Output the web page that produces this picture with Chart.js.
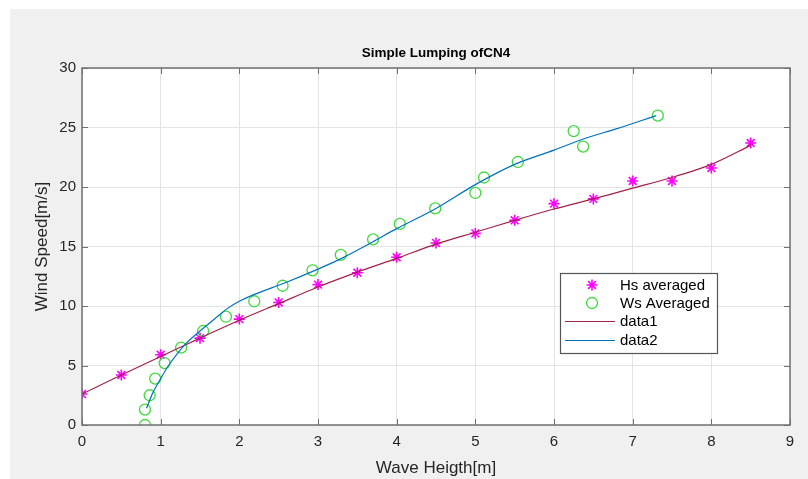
<!DOCTYPE html>
<html>
<head>
<meta charset="utf-8">
<script src="https://cdn.jsdelivr.net/npm/chart.js@4"></script>
<style>
    html, body { margin: 0; padding: 0; background: #ffffff; }
    #wrap { position: absolute; left: 10px; top: 9px; width: 798px; height: 470px; background: #f0f0f0; }
    canvas { display: block; }
</style>
</head>
<body>
<div id="wrap"><canvas id="chart" width="798" height="470"></canvas></div>
<script>
/* Simple Lumping ofCN4 - wind speed vs wave height */

// Hs averaged (asterisks)
const hsX = [0, 0.5, 1, 1.5, 2, 2.5, 3, 3.5, 4, 4.5, 5, 5.5, 6, 6.5, 7, 7.5, 8, 8.5];
const hsY = [2.6, 4.2, 5.9, 7.3, 8.9, 10.3, 11.8, 12.8, 14.1, 15.3, 16.1, 17.2, 18.6, 19.0, 20.5, 20.5, 21.6, 23.7];

// Ws Averaged (circles)
const wsX = [0.80, 0.80, 0.86, 0.93, 1.05, 1.26, 1.54, 1.83, 2.19, 2.55, 2.93, 3.29, 3.70, 4.04, 4.49, 5.00, 5.11, 5.54, 6.25, 6.37, 7.32];
const wsY = [0.0, 1.3, 2.5, 3.9, 5.2, 6.5, 7.9, 9.1, 10.4, 11.7, 13.0, 14.3, 15.6, 16.9, 18.2, 19.5, 20.8, 22.1, 24.7, 23.4, 26.0];

// data1 fit
const fit1X = [0, 0.5, 1, 1.5, 2, 2.5, 3, 3.5, 4, 4.5, 5, 5.5, 6, 6.5, 7, 7.5, 8, 8.5];
const fit1Y = [2.6, 4.2, 5.75, 7.3, 8.8, 10.2, 11.6, 12.85, 14.0, 15.2, 16.2, 17.2, 18.15, 19.0, 19.9, 20.8, 21.9, 23.5];

// data2 fit
const fit2X = [0.82, 0.9, 1.0, 1.1, 1.2, 1.33, 1.5, 1.7, 1.85, 2.0, 2.2, 2.6, 3.0, 3.3, 3.7, 4.0, 4.5, 5.0, 5.5, 6.0, 6.4, 6.8, 7.3];
const fit2Y = [1.4, 2.7, 3.9, 5.0, 5.9, 6.9, 7.9, 9.0, 9.8, 10.4, 11.0, 12.0, 13.1, 14.0, 15.4, 16.5, 18.2, 20.2, 21.9, 23.1, 24.1, 24.9, 26.0];

const xTicks = [0, 1, 2, 3, 4, 5, 6, 7, 8, 9];
const yTicks = [0, 5, 10, 15, 20, 25, 30];

const seriesNames = ['Hs averaged', 'Ws Averaged', 'data1', 'data2'];
const titleText = 'Simple Lumping ofCN4';

const FONT = '"Liberation Sans", Arial, sans-serif';
const AXIS_COLOR = '#707070';

const toPoints = (xs, ys) => xs.map((x, i) => ({ x, y: ys[i] }));

// white axes background
const axesBackground = {
    id: 'axesBackground',
    beforeDraw(chart) {
        const a = chart.chartArea;
        chart.ctx.save();
        chart.ctx.fillStyle = '#ffffff';
        chart.ctx.fillRect(a.left, a.top, a.right - a.left, a.bottom - a.top);
        chart.ctx.restore();
    }
};

// title, inward tick marks, box and legend drawn on top of the chart area
const matlabAxes = {
    id: 'matlabAxes',
    afterDraw(chart) {
        const ctx = chart.ctx;
        const a = chart.chartArea;
        const xs = chart.scales.x;
        const ys = chart.scales.y;
        ctx.save();

        // box
        ctx.strokeStyle = AXIS_COLOR;
        ctx.lineWidth = 1.5;
        ctx.strokeRect(a.left, a.top, a.right - a.left, a.bottom - a.top);

        // inward ticks
        ctx.lineWidth = 1;
        ctx.beginPath();
        xs.ticks.forEach(t => {
            const px = Math.round(xs.getPixelForValue(t.value)) + 0.5;
            ctx.moveTo(px, a.bottom); ctx.lineTo(px, a.bottom - 6);
            ctx.moveTo(px, a.top); ctx.lineTo(px, a.top + 6);
        });
        ys.ticks.forEach(t => {
            const py = Math.round(ys.getPixelForValue(t.value)) + 0.5;
            ctx.moveTo(a.left, py); ctx.lineTo(a.left + 6, py);
            ctx.moveTo(a.right, py); ctx.lineTo(a.right - 6, py);
        });
        ctx.stroke();

        // title centred over the axes
        ctx.fillStyle = '#000';
        ctx.font = 'bold 13.5px ' + FONT;
        ctx.textAlign = 'center';
        ctx.textBaseline = 'middle';
        ctx.fillText(titleText, (a.left + a.right) / 2, a.top - 15);

        // legend
        const lx = 550, ly = 264, lw = 157, lh = 80;
        ctx.fillStyle = '#fff';
        ctx.fillRect(lx, ly, lw, lh);
        ctx.strokeStyle = '#555';
        ctx.lineWidth = 1.2;
        ctx.strokeRect(lx + 0.5, ly + 0.5, lw, lh);

        const rowY = [276, 294, 312.5, 331.5];
        ctx.font = '15px ' + FONT;
        ctx.textAlign = 'left';
        chart.data.datasets.forEach((ds, i) => {
            const y = rowY[i];
            if (ds.showLine) {
                ctx.strokeStyle = ds.borderColor;
                ctx.lineWidth = ds.borderWidth;
                ctx.beginPath();
                ctx.moveTo(555, y); ctx.lineTo(605, y);
                ctx.stroke();
            } else {
                ctx.strokeStyle = ds.borderColor;
                ctx.fillStyle = 'rgba(0,0,0,0)';
                ctx.lineWidth = ds.borderWidth;
                Chart.helpers.drawPoint(ctx, {
                    pointStyle: ds.pointStyle, radius: ds.pointRadius, borderWidth: ds.borderWidth, rotation: 0
                }, 582, y);
            }
            ctx.fillStyle = '#000';
            ctx.fillText(ds.label, 610, y + 0.5);
        });

        ctx.restore();
    }
};

new Chart(document.getElementById('chart'), {
    type: 'scatter',
    data: {
        datasets: [
            {
                label: seriesNames[0],
                data: toPoints(hsX, hsY),
                showLine: false,
                pointStyle: 'star',
                pointRadius: 5.5,
                borderColor: '#ff00ff',
                backgroundColor: '#ff00ff',
                borderWidth: 1.6,
                order: 3
            },
            {
                label: seriesNames[1],
                data: toPoints(wsX, wsY),
                showLine: false,
                pointStyle: 'circle',
                pointRadius: 5.5,
                borderColor: '#3fd83f',
                backgroundColor: 'rgba(0,0,0,0)',
                borderWidth: 1.3,
                order: 2
            },
            {
                label: seriesNames[2],
                data: toPoints(fit1X, fit1Y),
                showLine: true,
                pointRadius: 0,
                borderColor: '#a2204a',
                borderWidth: 1.2,
                tension: 0.3,
                order: 1
            },
            {
                label: seriesNames[3],
                data: toPoints(fit2X, fit2Y),
                showLine: true,
                pointRadius: 0,
                borderColor: '#0072bd',
                borderWidth: 1.2,
                tension: 0.3,
                order: 0
            }
        ]
    },
    options: {
        responsive: false,
        animation: false,
        devicePixelRatio: 1,
        layout: { padding: { left: 0, top: 59, right: 18, bottom: 0 } },
        plugins: {
            legend: { display: false },
            title: { display: false },
            tooltip: { enabled: false }
        },
        scales: {
            x: {
                type: 'linear',
                min: 0,
                max: 9,
                afterBuildTicks: s => { s.ticks = xTicks.map(v => ({ value: v })); },
                afterFit: s => { s.height = 54; },
                grid: { color: '#e3e3e3', drawTicks: false },
                border: { display: false },
                ticks: { color: '#262626', font: { family: FONT, size: 15 }, padding: 8 },
                title: {
                    display: true,
                    text: 'Wave Heigth[m]',
                    color: '#262626',
                    font: { family: FONT, size: 17 },
                    padding: { top: 2.8, bottom: 0 }
                }
            },
            y: {
                type: 'linear',
                min: 0,
                max: 30,
                afterBuildTicks: s => { s.ticks = yTicks.map(v => ({ value: v })); },
                afterFit: s => { s.width = 72; },
                grid: { color: '#e3e3e3', drawTicks: false },
                border: { display: false },
                ticks: { color: '#262626', font: { family: FONT, size: 15 }, padding: 6 },
                title: {
                    display: true,
                    text: 'Wind Speed[m/s]',
                    color: '#262626',
                    font: { family: FONT, size: 17 },
                    padding: { top: 21.8, bottom: 0 }
                }
            }
        }
    },
    plugins: [axesBackground, matlabAxes]
});
</script>
</body>
</html>
